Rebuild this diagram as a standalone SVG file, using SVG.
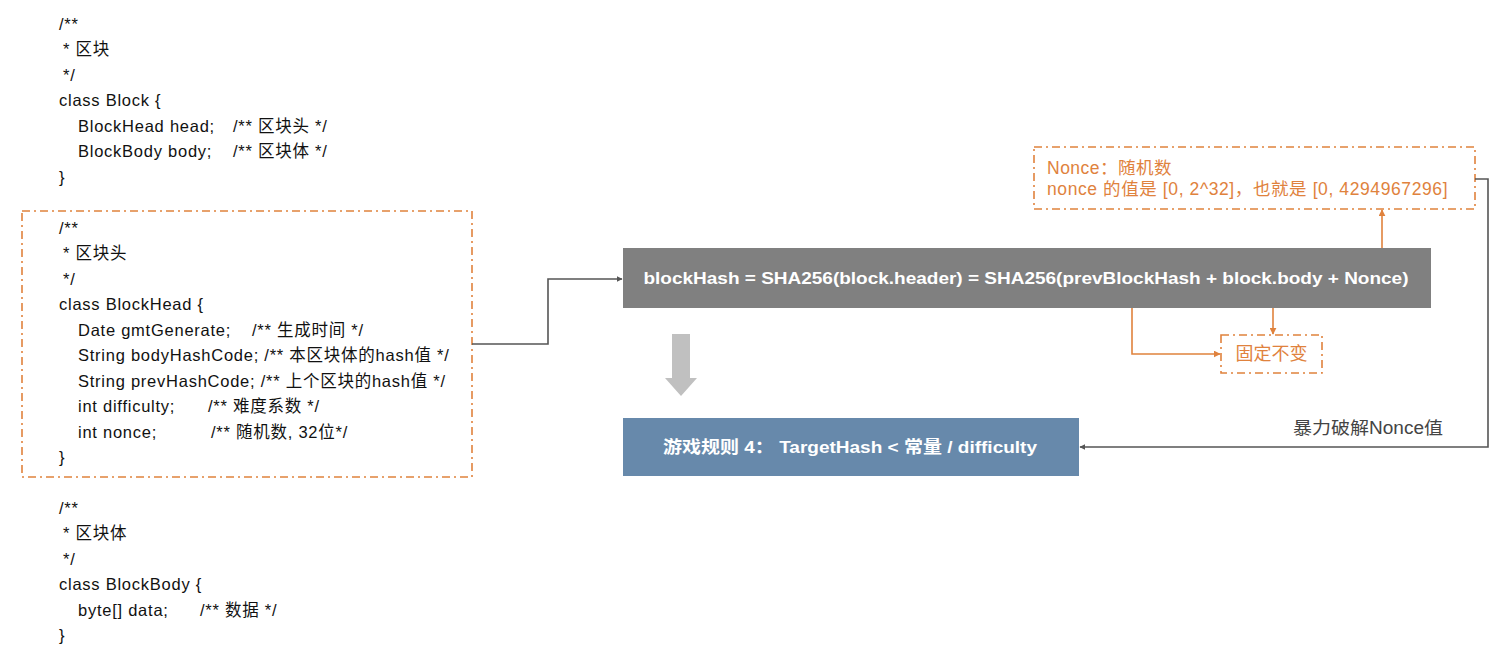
<svg xmlns="http://www.w3.org/2000/svg" width="1508" height="660" viewBox="0 0 1508 660">
<style>
.code{font-family:"Liberation Sans","Noto Sans CJK SC",sans-serif;font-size:16.5px;letter-spacing:0.75px;fill:#111}
.or{font-family:"Liberation Sans","Noto Sans CJK SC",sans-serif;font-size:17.5px;letter-spacing:0.5px;fill:#E0823D}
.wb{font-family:"Liberation Sans","Noto Sans CJK SC",sans-serif;font-size:17px;font-weight:bold;fill:#fff}
.lbl{font-family:"Liberation Sans","Noto Sans CJK SC",sans-serif;font-size:17.5px;fill:#444}
.dash{fill:none;stroke:#E0823D;stroke-width:1.6;stroke-dasharray:8 4 2 4}
.dk{fill:none;stroke:#555;stroke-width:1.6}
.ol{fill:none;stroke:#E0823D;stroke-width:1.6}
</style>
<defs>
<marker id="ad" viewBox="0 0 10 10" refX="9" refY="5" markerWidth="6" markerHeight="6" orient="auto" markerUnits="userSpaceOnUse"><path d="M0,0 L10,5 L0,10 z" fill="#555"/></marker>
<marker id="ao" viewBox="0 0 10 10" refX="9" refY="5" markerWidth="7" markerHeight="7" orient="auto" markerUnits="userSpaceOnUse"><path d="M0,0 L10,5 L0,10 z" fill="#E0823D"/></marker>
</defs>

<g id="block-code">
<text class="code" x="59" y="29.5">/**</text>
<text class="code" x="63" y="55"> * 区块</text>
<text class="code" x="63" y="80.5"> */</text>
<text class="code" x="59" y="106">class Block {</text>
<text class="code" y="131.5"><tspan x="78">BlockHead head;</tspan><tspan x="233">/** 区块头 */</tspan></text>
<text class="code" y="157"><tspan x="78">BlockBody body;</tspan><tspan x="233">/** 区块体 */</tspan></text>
<text class="code" x="59" y="182.5">}</text>
</g>

<g id="blockhead-code">
<rect class="dash" x="22" y="211" width="450" height="266"/>
<text class="code" x="59" y="233.5">/**</text>
<text class="code" x="63" y="259"> * 区块头</text>
<text class="code" x="63" y="284.5"> */</text>
<text class="code" x="59" y="310">class BlockHead {</text>
<text class="code" y="335.5"><tspan x="78">Date gmtGenerate;</tspan><tspan x="252">/** 生成时间 */</tspan></text>
<text class="code" x="78" y="361">String bodyHashCode; /** 本区块体的hash值 */</text>
<text class="code" x="78" y="386.5">String prevHashCode; /** 上个区块的hash值 */</text>
<text class="code" y="412"><tspan x="78">int difficulty;</tspan><tspan x="208">/** 难度系数 */</tspan></text>
<text class="code" y="437.5"><tspan x="78">int nonce;</tspan><tspan x="211">/** 随机数, 32位*/</tspan></text>
<text class="code" x="59" y="463">}</text>
</g>

<g id="blockbody-code">
<text class="code" x="59" y="513.5">/**</text>
<text class="code" x="63" y="539"> * 区块体</text>
<text class="code" x="63" y="564.5"> */</text>
<text class="code" x="59" y="590">class BlockBody {</text>
<text class="code" y="615.5"><tspan x="78">byte[] data;</tspan><tspan x="200">/** 数据 */</tspan></text>
<text class="code" x="59" y="641">}</text>
</g>

<g id="hash-formula">
<rect x="623" y="248" width="808" height="60" fill="#808080"/>
<text class="wb" x="1026" y="284" text-anchor="middle" textLength="765" lengthAdjust="spacingAndGlyphs">blockHash = SHA256(block.header) = SHA256(prevBlockHash + block.body + Nonce)</text>
</g>

<g id="nonce-note">
<rect class="dash" x="1034" y="147" width="441" height="62"/>
<text class="or" x="1047" y="174">Nonce：随机数</text>
<text class="or" x="1047" y="195" textLength="401" lengthAdjust="spacing">nonce 的值是 [0, 2^32]，也就是 [0, 4294967296]</text>
</g>

<g id="fixed">
<rect class="dash" x="1221" y="335" width="101" height="38"/>
<text class="or" x="1271.5" y="360" text-anchor="middle" style="font-size:18px;letter-spacing:0">固定不变</text>
</g>

<g id="down-arrow">
<path d="M672,334 H690 V378 H697 L681,396 L665,378 H672 Z" fill="#C0C0C0"/>
</g>

<g id="rule4">
<rect x="623" y="418" width="456" height="58" fill="#6789AB"/>
<text class="wb" x="850" y="453" text-anchor="middle" textLength="374" lengthAdjust="spacingAndGlyphs">游戏规则 4： TargetHash &lt; 常量 / difficulty</text>
</g>

<g id="brute-label">
<text class="lbl" x="1293" y="434" textLength="150" lengthAdjust="spacingAndGlyphs">暴力破解Nonce值</text>
</g>

<g id="connectors">
<path class="dk" d="M472,344 H548 V279 H622" marker-end="url(#ad)"/>
<path class="dk" d="M1475,179 H1488 V447 H1080" marker-end="url(#ad)"/>
<path class="ol" d="M1382,248 V210" marker-end="url(#ao)"/>
<path class="ol" d="M1132,308 V354 H1220" marker-end="url(#ao)"/>
<path class="ol" d="M1273,308 V334" marker-end="url(#ao)"/>
</g>
</svg>
